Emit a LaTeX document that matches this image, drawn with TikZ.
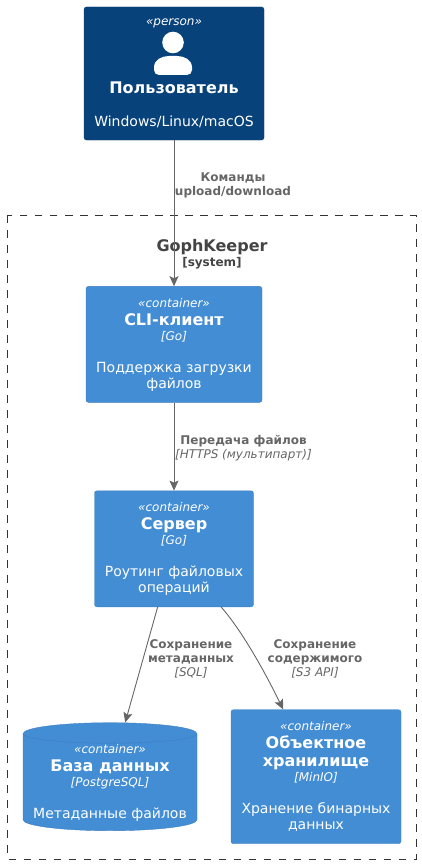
\documentclass[tikz,border=0pt]{standalone}
\usepackage{fontspec}
\setmainfont{DejaVu Sans}
\usetikzlibrary{arrows.meta,positioning}
\definecolor{PersonBlue}{HTML}{08427B}
\definecolor{ContBlue}{HTML}{438DD5}
\definecolor{ContEdge}{HTML}{3C7FC0}
\definecolor{RelGrey}{HTML}{666666}
\definecolor{SysGrey}{HTML}{444444}
\newcommand{\stereo}[1]{{\fontsize{12}{14}\selectfont\itshape #1}}
\newcommand{\ttl}[1]{{\fontsize{16}{18}\selectfont\bfseries #1}}
\newcommand{\relb}[1]{{\bfseries #1}}
\newcommand{\reli}[1]{{\itshape #1}}

\begin{document}
\begin{tikzpicture}[
    x=1pt, y=1pt,
    user/.style={draw=PersonBlue!90!black, fill=PersonBlue, rounded corners=2.5pt, text=white, align=center,
      minimum width=180pt, minimum height=133pt, inner sep=0pt, font=\fontsize{14}{16}\selectfont},
    cont/.style={draw=ContEdge, fill=ContBlue, rounded corners=2.5pt, text=white, align=center,
      minimum height=116pt, inner sep=0pt, font=\fontsize{14}{16}\selectfont},
    dbase/.style={minimum width=174pt, minimum height=108pt, inner sep=0pt},
    dbtext/.style={text=white, align=center, inner sep=0pt, font=\fontsize{14}{16}\selectfont},
    rel/.style={text=RelGrey, align=center, inner sep=0pt, font=\fontsize{12}{14}\selectfont},
    arr/.style={-{Stealth[length=10pt,width=9pt,inset=2pt]}, draw=RelGrey, fill=none, line width=0.9pt}
  ]
    \useasboundingbox (0,0) rectangle (421,-864);
    \draw[dash pattern=on 7.5pt off 7.5pt, draw=black!80, line width=0.8pt] (7.5,-215) rectangle (416,-859);
    \node[align=center, inner sep=0pt, text=SysGrey, font=\fontsize{14}{15}\selectfont] (sys) at (212,-254) {\ttl{GophKeeper}\\{\fontsize{12}{14}\selectfont\bfseries [system]}};

    \node[user] (person) at (174,-73.5) {\stereo{«person»}\\[52pt]\ttl{Пользователь}\\[17pt]Windows/Linux/macOS};
    \begin{scope}[shift={(person.center)}]
      \fill[white] (-1,31) circle (10.8);
      \fill[white] (-15,-1.5) -- (13,-1.5) arc (-90:0:5) -- (18,6) .. controls (18,14) and (10,17.5) .. (3,17.5) -- (-5,17.5) .. controls (-12,17.5) and (-20,14) .. (-20,6) -- (-20,3.5) arc (180:270:5) -- cycle;
    \end{scope}

    \node[cont, minimum width=176pt, below=146pt of person] (cli) {\stereo{«container»}\\[2pt]\ttl{CLI-клиент}\\[-1pt]\stereo{[Go]}\\[16pt]Поддержка загрузки\\файлов};
    \node[cont, minimum width=159pt, below=88pt of cli] (srv) {\stereo{«container»}\\[2pt]\ttl{Сервер}\\[-1pt]\stereo{[Go]}\\[16pt]Роутинг файловых\\операций};
    \node[dbase, below=115.5pt of srv, xshift=-64pt] (db) {};
    \begin{scope}[shift={(db.center)}]
      \draw[draw=ContEdge, fill=ContBlue] (-87,43) arc (180:0:87 and 11) -- (87,-43) arc (0:-180:87 and 11) -- cycle;
      \draw[draw=ContEdge] (-87,43) arc (180:360:87 and 9.5);
    \end{scope}
    \node[dbtext, yshift=-6pt] (dbtxt) at (db.center) {\stereo{«container»}\\[2pt]\ttl{База данных}\\[-1pt]\stereo{[PostgreSQL]}\\[16pt]Метаданные файлов};
    \node[cont, minimum width=170pt, minimum height=134pt, below=102.5pt of srv, xshift=142pt] (obj) {\stereo{«container»}\\[2pt]\ttl{Объектное}\\[2pt]\ttl{хранилище}\\[-1pt]\stereo{[MinIO]}\\[16pt]Хранение бинарных\\данных};

    \draw[arr] (person) -- (cli);
    \draw[arr] (cli) -- (srv);
    \draw[arr] (srv) -- (db);
    \draw[arr] (srv.-51.6) .. controls (238,-626) and (260,-662) .. (obj.116);

    \node[rel, below=32pt of person, xshift=59pt] (lblcmd) {\relb{Команды}\\\relb{upload/download}};
    \node[rel, below=33pt of cli, xshift=69.5pt] (lblsend) {\relb{Передача файлов}\\\reli{[HTTPS (мультипарт)]}};
    \node[rel, below=32pt of srv, xshift=17pt] (lblsql) {\relb{Сохранение}\\\relb{метаданных}\\\reli{[SQL]}};
    \node[rel, below=32pt of srv, xshift=141pt] (lblput) {\relb{Сохранение}\\\relb{содержимого}\\\reli{[S3 API]}};
  \end{tikzpicture}
\end{document}
